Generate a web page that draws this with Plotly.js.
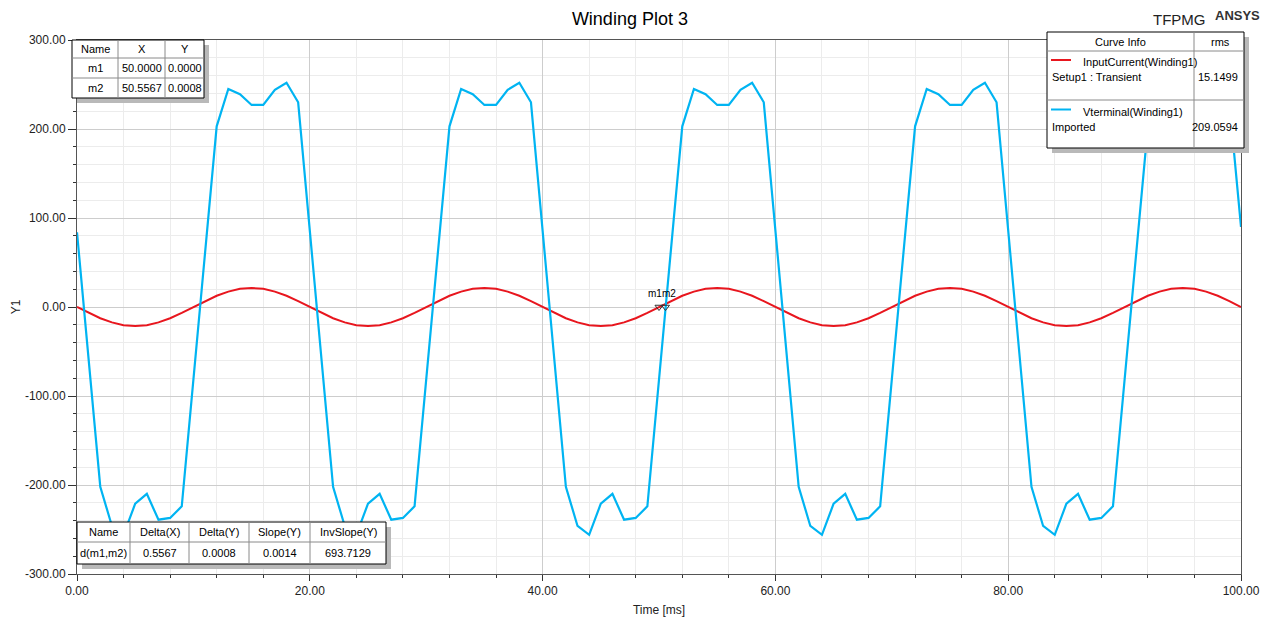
<!DOCTYPE html>
<html><head><meta charset="utf-8">
<script src="https://cdn.plot.ly/plotly-3.0.1.min.js"></script>
<style>html,body{margin:0;padding:0;background:#fff}#plot{width:1270px;height:619px}</style>
</head><body><div id="plot"></div>
<script>
// ---- data ----
const currentTime = [0,1,2,3,4,5,6,7,8,9,10,11,12,13,14,15,16,17,18,19,20,21,22,23,24,25,26,27,28,29,30,31,32,33,34,35,36,37,38,39,40,41,42,43,44,45,46,47,48,49,50,51,52,53,54,55,56,57,58,59,60,61,62,63,64,65,66,67,68,69,70,71,72,73,74,75,76,77,78,79,80,81,82,83,84,85,86,87,88,89,90,91,92,93,94,95,96,97,98,99,100];
const inputCurrent = [0,-6.6,-12.6,-17.3,-20.4,-21.4,-20.4,-17.3,-12.6,-6.6,0,6.6,12.6,17.3,20.4,21.4,20.4,17.3,12.6,6.6,
  0,-6.6,-12.6,-17.3,-20.4,-21.4,-20.4,-17.3,-12.6,-6.6,0,6.6,12.6,17.3,20.4,21.4,20.4,17.3,12.6,6.6,
  0,-6.6,-12.6,-17.3,-20.4,-21.4,-20.4,-17.3,-12.6,-6.6,0,6.6,12.6,17.3,20.4,21.4,20.4,17.3,12.6,6.6,
  0,-6.6,-12.6,-17.3,-20.4,-21.4,-20.4,-17.3,-12.6,-6.6,0,6.6,12.6,17.3,20.4,21.4,20.4,17.3,12.6,6.6,
  0,-6.6,-12.6,-17.3,-20.4,-21.4,-20.4,-17.3,-12.6,-6.6,0,6.6,12.6,17.3,20.4,21.4,20.4,17.3,12.6,6.6,0];
const terminalTime = [0,2,3,4,5,6,7,8,9,12,13,14,15,16,17,18,19,
  22,23,24,25,26,27,28,29,32,33,34,35,36,37,38,39,
  42,43,44,45,46,47,48,49,52,53,54,55,56,57,58,59,
  62,63,64,65,66,67,68,69,72,73,74,75,76,77,78,79,
  82,83,84,85,86,87,88,89,92,93,94,95,96,97,98,99,100];
const vTerminal = [84,-202,-246,-256,-221,-210,-239,-237,-224,203,245,239,227,227,244,252,230,
  -202,-246,-256,-221,-210,-239,-237,-224,203,245,239,227,227,244,252,230,
  -202,-246,-256,-221,-210,-239,-237,-224,203,245,239,227,227,244,252,230,
  -202,-246,-256,-221,-210,-239,-237,-224,203,245,239,227,227,244,252,230,
  -202,-246,-256,-221,-210,-239,-237,-224,203,245,239,227,227,244,252,230,90];
const markerNames = ["m1","m2"];
const markerX = [50.0000, 50.5567];
const markerY = [0.0000, 0.0008];
const markerHeaders = ["Name","X","Y"];
const markerXText = ["50.0000","50.5567"];
const markerYText = ["0.0000","0.0008"];
const deltaHeaders = ["Name","Delta(X)","Delta(Y)","Slope(Y)","InvSlope(Y)"];
const deltaRow = ["d(m1,m2)","0.5567","0.0008","0.0014","693.7129"];
const curveNames = ["InputCurrent(Winding1)","Vterminal(Winding1)"];
const curveSources = ["Setup1 : Transient","Imported"];
const curveRms = ["15.1499","209.0594"];
const xTickVals = [0,20,40,60,80,100];
const xTickText = ["0.00","20.00","40.00","60.00","80.00","100.00"];
const yTickVals = [-300,-200,-100,0,100,200,300];
const yTickText = ["-300.00","-200.00","-100.00","0.00","100.00","200.00","300.00"];

// ---- style / layout ----
const FONT = "Liberation Sans, Arial, sans-serif";
const RED = "#e8161e", BLUE = "#00b4f2";
const L = 77, T = 40, W = 1164, H = 534;
const X = p => (p - L) / W;
const Y = p => (T + H - p) / H;

const shapes = [], annotations = [];
function box(x0, y0, x1, y1) {
  shapes.push({type:"rect", xref:"paper", yref:"paper", layer:"above",
    x0:X(x0+5), x1:X(x1+5), y0:Y(y0+5), y1:Y(y1+5), fillcolor:"#b9b9b9", line:{width:0}});
  shapes.push({type:"rect", xref:"paper", yref:"paper", layer:"above",
    x0:X(x0), x1:X(x1), y0:Y(y0), y1:Y(y1), fillcolor:"#ffffff", line:{color:"#000", width:1}});
}
function seg(x0, y0, x1, y1, color, w) {
  shapes.push({type:"line", xref:"paper", yref:"paper", layer:"above",
    x0:X(x0), x1:X(x1), y0:Y(y0), y1:Y(y1), line:{color:color, width:w}});
}
function txt(s, x, y, anchor, size) {
  annotations.push({text:s, xref:"paper", yref:"paper", x:X(x), y:Y(y), xanchor:anchor||"center",
    yanchor:"middle", showarrow:false, font:{family:FONT, size:size||11, color:"#000"}});
}

// marker table (top-left)
box(72, 40, 204, 98);
seg(118, 40, 118, 98, "#8a8a8a", 1); seg(165, 40, 165, 98, "#8a8a8a", 1);
seg(72, 58, 204, 58, "#8a8a8a", 1); seg(72, 78, 204, 78, "#8a8a8a", 1);
const mCols = [95, 141.5, 184.5];
markerHeaders.forEach((h, i) => txt(h, mCols[i], 49));
markerNames.forEach((n, r) => {
  const yy = 68 + r * 20;
  txt(n, mCols[0], yy); txt(markerXText[r], mCols[1], yy); txt(markerYText[r], mCols[2], yy);
});

// delta table (bottom-left)
box(77, 522, 386, 564);
[130, 189, 249, 310].forEach(x => seg(x, 522, x, 564, "#8a8a8a", 1));
seg(77, 542, 386, 542, "#8a8a8a", 1);
const dCols = [103.5, 159.5, 219, 279.5, 348];
deltaHeaders.forEach((h, i) => txt(h, dCols[i], 532));
deltaRow.forEach((v, i) => txt(v, dCols[i], 553));

// curve info box (top-right)
box(1047, 32, 1244, 148);
seg(1194, 32, 1194, 148, "#8a8a8a", 1);
seg(1047, 51, 1244, 51, "#8a8a8a", 1);
seg(1047, 100, 1244, 100, "#8a8a8a", 1);
txt("Curve Info", 1120, 42.5); txt("rms", 1220, 42.5);
const legColors = [RED, BLUE];
curveNames.forEach((n, i) => {
  const y0 = 60 + i * 49.5;
  seg(1051, y0, 1071, y0, legColors[i], 2);
  txt(n, 1081, y0 + 2, "left");
  txt(curveSources[i], 1050, y0 + 17, "left");
  txt(curveRms[i], 1240, y0 + 17, "right");
});

// header texts
annotations.push({text:"TFPMG", xref:"paper", yref:"paper", x:X(1179), y:Y(19), xanchor:"center", yanchor:"middle",
  showarrow:false, font:{family:FONT, size:15, color:"#222"}});
annotations.push({text:"<b>ANSYS</b>", xref:"paper", yref:"paper", x:X(1237), y:Y(16), xanchor:"center", yanchor:"middle",
  showarrow:false, font:{family:FONT, size:13, color:"#333"}});

// marker labels (m1 ends at its point, m2 starts at its point)
const mAnchors = ["right","left"];
const mShifts = [4, -4];
markerNames.forEach((n, i) => annotations.push({text:n, x:markerX[i], y:markerY[i], xref:"x", yref:"y",
  xanchor:mAnchors[i], xshift:mShifts[i], showarrow:false, yshift:14, borderpad:0,
  font:{family:FONT, size:10, color:"#000"}}));

const traces = [
  {x:currentTime, y:inputCurrent, type:"scatter", mode:"lines", name:curveNames[0],
   line:{color:RED, width:2}},
  {x:terminalTime, y:vTerminal, type:"scatter", mode:"lines", name:curveNames[1],
   line:{color:BLUE, width:2.2}},
  {x:markerX, y:markerY, type:"scatter", mode:"markers", name:"markers",
   marker:{symbol:"triangle-down-open", size:7, color:"#333", line:{width:1}}}
];

const axisCommon = {
  showline:true, linecolor:"#555", linewidth:1, mirror:true,
  ticks:"outside", ticklen:6, tickcolor:"#333", tickwidth:1,
  showgrid:true, gridcolor:"#cdcdcd", gridwidth:1, zeroline:false,
  tickfont:{family:FONT, size:12, color:"#222"}, tickmode:"array"
};

const layout = {
  width:1270, height:619, showlegend:false,
  paper_bgcolor:"#fff", plot_bgcolor:"#fff",
  margin:{l:L, r:1270-L-W, t:T, b:619-T-H},
  title:{text:"Winding Plot 3", x:0.496, xref:"container", y:1-19/619, yanchor:"middle", yref:"container",
    font:{family:FONT, size:18, color:"#000"}},
  xaxis:Object.assign({}, axisCommon, {
    range:[0,100], tickvals:xTickVals, ticktext:xTickText,
    minor:{tickmode:"linear", tick0:0, dtick:4, ticks:"outside", ticklen:3, tickcolor:"#333",
      showgrid:true, gridcolor:"#ececec", gridwidth:1},
    title:{text:"Time [ms]", standoff:8, font:{family:FONT, size:12, color:"#222"}}
  }),
  yaxis:Object.assign({}, axisCommon, {
    range:[-300,300], tickvals:yTickVals, ticktext:yTickText, ticklen:8,
    minor:{tickmode:"linear", tick0:0, dtick:20, ticks:"outside", ticklen:3, tickcolor:"#333",
      showgrid:true, gridcolor:"#ececec", gridwidth:1},
    title:{text:"Y1", standoff:1, font:{family:FONT, size:12, color:"#222"}}
  }),
  shapes:shapes, annotations:annotations
};

Plotly.newPlot("plot", traces, layout, {displayModeBar:false, staticPlot:true});
</script>
</body></html>
